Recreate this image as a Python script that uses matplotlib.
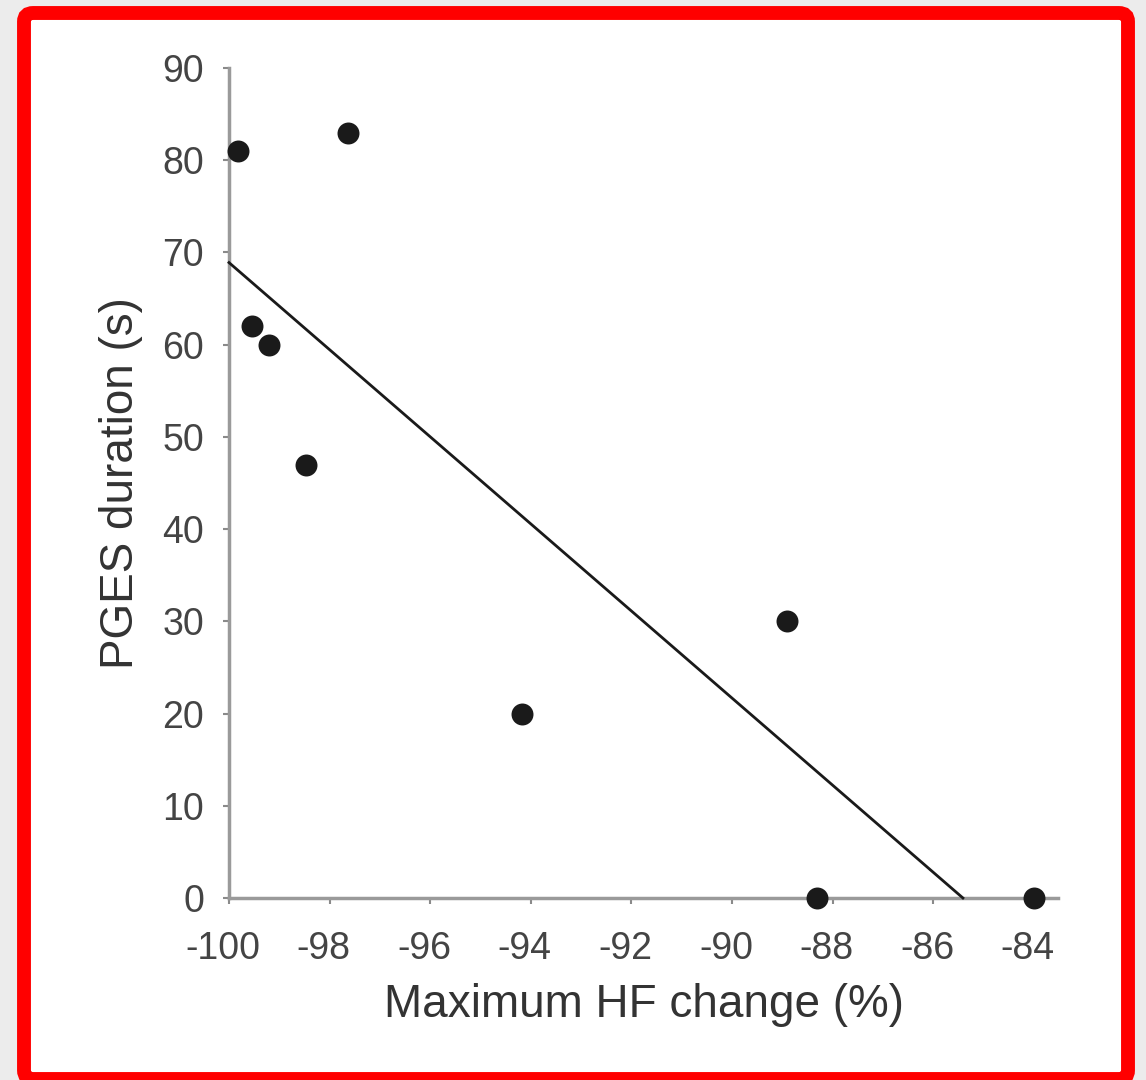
import matplotlib
matplotlib.use("Agg")
import matplotlib.pyplot as plt
from matplotlib.patches import FancyBboxPatch
from matplotlib.transforms import ScaledTranslation

plt.rcParams['font.family'] = ['Liberation Sans', 'DejaVu Sans']

# Data
hf_change = [-99.82, -97.63, -99.54, -99.20, -98.47, -94.17, -88.91, -88.31, -84.0]
pges_duration = [81, 83, 62, 60, 47, 20, 30, 0, 0]
fit_x = [-100.0, -85.41]
fit_y = [68.9, 0.0]
x_ticks = [-100, -98, -96, -94, -92, -90, -88, -86, -84]
y_ticks = [0, 10, 20, 30, 40, 50, 60, 70, 80, 90]

W, H = 1146, 1080
fig = plt.figure(figsize=(W / 100, H / 100), dpi=100)
fig.patch.set_facecolor('#ececec')

# red rounded frame (edge centres in pixels: left 24, right 1128, top 13, bottom 1079)
fl, fr, ft, fb = 24, 1128, 13, 1079
frame = FancyBboxPatch((fl / W, 1 - fb / H), (fr - fl) / W, (fb - ft) / H,
                       boxstyle="round,pad=0,rounding_size=0.008",
                       transform=fig.transFigure, facecolor='white',
                       edgecolor='#ff0000', linewidth=10, zorder=-5)
fig.add_artist(frame)

left, right = 229 / W, 1058 / W
bottom, top = 1 - 898 / H, 1 - 68 / H
ax = fig.add_axes([left, bottom, right - left, top - bottom])
ax.set_facecolor('none')
ax.set_zorder(2)

ax.plot(fit_x, fit_y, color='#1a1a1a', linewidth=2.0, zorder=3, clip_on=False)
ax.scatter(hf_change, pges_duration, s=250, color='#1a1a1a', zorder=4, clip_on=False,
           linewidths=0)

ax.set_xlim(-100, -83.52)
ax.set_ylim(0, 90)
ax.set_xticks(x_ticks)
ax.set_xticklabels([str(t) for t in x_ticks])
ax.set_yticks(y_ticks)

for s in ['top', 'right']:
    ax.spines[s].set_visible(False)
for s in ['left', 'bottom']:
    ax.spines[s].set_color('#9a9a9a')
    ax.spines[s].set_linewidth(2.5)

ax.tick_params(axis='both', direction='out', length=4, width=1.5, color='#8a8a8a',
               labelsize=27, labelcolor='#444444')
ax.tick_params(axis='x', pad=20)
ax.tick_params(axis='y', pad=14)

shift = ScaledTranslation(-6 / 100, 0, fig.dpi_scale_trans)
for lbl in ax.get_xticklabels():
    lbl.set_transform(lbl.get_transform() + shift)

ax.set_xlabel('Maximum HF change (%)', fontsize=33, color='#333333', labelpad=11)
ax.set_ylabel('PGES duration (s)', fontsize=33, color='#333333', labelpad=14)

fig.savefig('out.png', dpi=100, facecolor=fig.get_facecolor())
